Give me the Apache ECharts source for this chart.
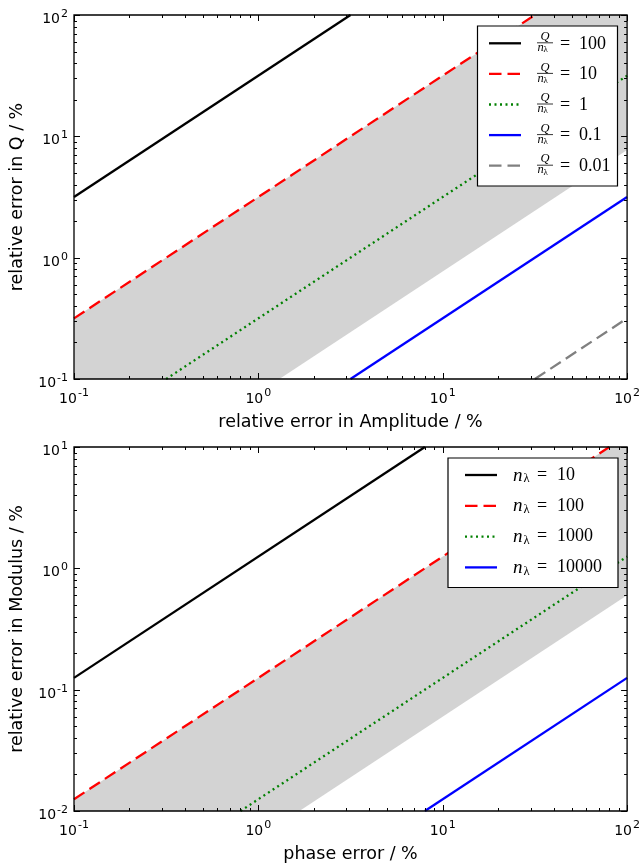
<!DOCTYPE html>
<html>
<head>
<meta charset="utf-8">
<script src="https://cdn.jsdelivr.net/npm/echarts@6/dist/echarts.min.js"></script>
<style>
html, body { margin: 0; padding: 0; background: #fff; }
#chart { width: 643px; height: 868px; }
</style>
</head>
<body>
<div id="chart"></div>
<script>
// ---- axis ranges ----
const xExtent = [0.1, 100];     // relative error in amplitude / phase error, %
const qExtent = [0.1, 100];     // relative error in Q, %
const modExtent = [0.01, 10];   // relative error in modulus, %

// ---- upper panel: error in Q for several Q/n_lambda ratios ----
const qRatioLabels = ['100', '10', '1', '0.1', '0.01'];
const qLine100 = [[0.1, 3.16], [3.16, 100]];
const qLine10 = [[0.1, 0.316], [31.6, 100]];
const qLine1 = [[0.316, 0.1], [100, 31.6]];
const qLine01 = [[3.16, 0.1], [100, 3.16]];
const qLine001 = [[31.6, 0.1], [100, 0.316]];
const qBandUpper = [[0.1, 0.316], [31.6, 100], [100, 100]];
const qBandLower = [[0.1, 0.1], [1.3, 0.1], [100, 7.7]];

// ---- lower panel: error in modulus for several n_lambda ----
const nLambdaLabels = ['10', '100', '1000', '10000'];
const modLine10 = [[0.1, 0.125], [8, 10]];
const modLine100 = [[0.1, 0.0125], [80, 10]];
const modLine1000 = [[0.8, 0.01], [100, 1.25]];
const modLine10000 = [[8, 0.01], [100, 0.125]];
const modBandUpper = [[0.1, 0.0125], [80, 10], [100, 10]];
const modBandLower = [[0.1, 0.01], [1.67, 0.01], [100, 0.6]];

// ---- line styles ----
const styles = {
  black: { color: '#000000', width: 2.3, type: 'solid' },
  red: { color: '#ff0000', width: 2.3, type: [12.5, 6] },
  green: { color: '#008000', width: 2.3, type: [2, 3.5] },
  blue: { color: '#0000ff', width: 2.3, type: 'solid' },
  gray: { color: '#808080', width: 2.3, type: [12.5, 6] }
};
const qStyles = [styles.black, styles.red, styles.green, styles.blue, styles.gray];
const nStyles = [styles.black, styles.red, styles.green, styles.blue];

const sansFont = 'DejaVu Sans';
const mathFont = '"Liberation Serif"';

function decadeLabel(v) {
  const e = Math.round(Math.log10(v));
  return '{b|10}{s|' + (e < 0 ? '-' + (-e) : e) + '}';
}
const labelRich = {
  b: { fontSize: 14, fontFamily: sansFont, color: '#000', padding: [9, 0, 0, 0] },
  s: { fontSize: 11, fontFamily: sansFont, color: '#000', padding: [4, 0, 6, 1] }
};

function logAxis(gridIndex, extent, name, nameGap, isY) {
  return {
    type: 'log', logBase: 10, gridIndex, min: extent[0], max: extent[1],
    name, nameLocation: 'middle', nameGap,
    nameTextStyle: { fontSize: 17.5, fontFamily: sansFont, color: '#000' },
    axisLine: { show: false }, axisTick: { show: false }, splitLine: { show: false },
    axisLabel: {
      formatter: decadeLabel, rich: labelRich, margin: isY ? 6 : 4,
      showMinLabel: true, showMaxLabel: true
    }
  };
}

function lineSeries(data, style, gi) {
  return {
    type: 'line', xAxisIndex: gi, yAxisIndex: gi, data, showSymbol: false, symbol: 'none',
    lineStyle: { color: style.color, width: style.width, type: style.type, cap: 'butt' },
    z: 3, silent: true, clip: true
  };
}

function bandSeries(upper, lower, gi) {
  return {
    type: 'custom', xAxisIndex: gi, yAxisIndex: gi, data: [upper[0]], silent: true, z: 1,
    renderItem(params, api) {
      const pts = upper.concat(lower.slice().reverse()).map(p => api.coord(p));
      return { type: 'polygon', shape: { points: pts }, style: { fill: '#d3d3d3' } };
    }
  };
}

// Decade and in-between tick values for a log range
function majorTicks(ext) {
  const out = [];
  for (let e = Math.round(Math.log10(ext[0])); e <= Math.round(Math.log10(ext[1])); e++) out.push(Math.pow(10, e));
  return out;
}
function minorTicks(ext) {
  const out = [];
  for (let e = Math.round(Math.log10(ext[0])); e < Math.round(Math.log10(ext[1])); e++) {
    for (let m = 2; m <= 9; m++) out.push(m * Math.pow(10, e));
  }
  return out;
}

// Ticks on all four sides plus the frame, drawn inside the plot area
function frameSeries(xExt, yExt, gi) {
  const data = [];
  majorTicks(xExt).forEach(v => data.push([v, yExt[0], 0, 6]));
  minorTicks(xExt).forEach(v => data.push([v, yExt[0], 0, 3]));
  majorTicks(yExt).forEach(v => data.push([xExt[0], v, 1, 6]));
  minorTicks(yExt).forEach(v => data.push([xExt[0], v, 1, 3]));
  data.push([xExt[0], yExt[0], 2, 0]);
  return {
    type: 'custom', xAxisIndex: gi, yAxisIndex: gi, data, silent: true, z: 5,
    renderItem(params, api) {
      const cs = params.coordSys;
      const kind = api.value(2), len = api.value(3);
      const st = { stroke: '#000', lineWidth: 1, fill: null };
      if (kind === 2) {
        return { type: 'rect', shape: { x: cs.x, y: cs.y, width: cs.width, height: cs.height }, style: { stroke: '#000', lineWidth: 1.3, fill: null } };
      }
      if (kind === 0) {
        const px = Math.round(api.coord([api.value(0), yExt[0]])[0]) + 0.5;
        return { type: 'group', children: [
          { type: 'line', shape: { x1: px, y1: cs.y + cs.height, x2: px, y2: cs.y + cs.height - len }, style: st },
          { type: 'line', shape: { x1: px, y1: cs.y, x2: px, y2: cs.y + len }, style: st }
        ] };
      }
      const py = Math.round(api.coord([xExt[0], api.value(1)])[1]) + 0.5;
      return { type: 'group', children: [
        { type: 'line', shape: { x1: cs.x, y1: py, x2: cs.x + len, y2: py }, style: st },
        { type: 'line', shape: { x1: cs.x + cs.width, y1: py, x2: cs.x + cs.width - len, y2: py }, style: st }
      ] };
    }
  };
}

// ---- legends (math-style labels) ----
function txt(x, y, text, size, italic, align) {
  return {
    type: 'text', x, y, z: 20,
    style: { text, font: (italic ? 'italic ' : '') + size + 'px ' + mathFont,
      fill: '#000', align: align || 'left', verticalAlign: 'middle' }
  };
}
function sample(x1, x2, y, st) {
  return {
    type: 'line', z: 20, shape: { x1, y1: y, x2, y2: y },
    style: { stroke: st.color, lineWidth: st.width, lineDash: Array.isArray(st.type) ? st.type : null }
  };
}

const graphics = [];
// upper legend
graphics.push({ type: 'rect', z: 19, shape: { x: 477.5, y: 26, width: 140, height: 160 },
  style: { fill: '#fff', stroke: '#000', lineWidth: 1.2 } });
qRatioLabels.forEach((lab, i) => {
  const y = 43.3 + i * 30.6;
  graphics.push(sample(489, 521, y, qStyles[i]));
  graphics.push(txt(545, y - 6.5, 'Q', 12.5, true, 'center'));
  graphics.push({ type: 'line', z: 20, shape: { x1: 537, y1: y - 0.5, x2: 553, y2: y - 0.5 },
    style: { stroke: '#000', lineWidth: 0.8 } });
  graphics.push(txt(537.5, y + 4.5, 'n', 12.5, true));
  graphics.push(txt(543.5, y + 6.5, 'λ', 9, false));
  graphics.push(txt(560, y + 0.5, '=', 18, false));
  graphics.push(txt(579, y + 0.5, lab, 18, false));
});
// lower legend
graphics.push({ type: 'rect', z: 19, shape: { x: 448, y: 458, width: 170, height: 129.5 },
  style: { fill: '#fff', stroke: '#000', lineWidth: 1.2 } });
nLambdaLabels.forEach((lab, i) => {
  const y = 475 + i * 30.8;
  graphics.push(sample(465, 497, y, nStyles[i]));
  graphics.push(txt(513, y + 0.5, 'n', 19, true));
  graphics.push(txt(523.5, y + 4, 'λ', 12.5, false));
  graphics.push(txt(537, y, '=', 18, false));
  graphics.push(txt(557, y, lab, 18, false));
});

const chart = echarts.init(document.getElementById('chart'), null, { renderer: 'canvas' });
chart.setOption({
  animation: false,
  backgroundColor: '#fff',
  grid: [
    { left: 72, top: 15, width: 557, height: 364, show: false },
    { left: 72, top: 447, width: 557, height: 364, show: false }
  ],
  xAxis: [
    logAxis(0, xExtent, 'relative error in Amplitude / %', 34, false),
    logAxis(1, xExtent, 'phase error / %', 34, false)
  ],
  yAxis: [
    logAxis(0, qExtent, 'relative error in Q / %', 48, true),
    logAxis(1, modExtent, 'relative error in Modulus / %', 48, true)
  ],
  series: [
    bandSeries(qBandUpper, qBandLower, 0),
    lineSeries(qLine100, qStyles[0], 0),
    lineSeries(qLine10, qStyles[1], 0),
    lineSeries(qLine1, qStyles[2], 0),
    lineSeries(qLine01, qStyles[3], 0),
    lineSeries(qLine001, qStyles[4], 0),
    frameSeries(xExtent, qExtent, 0),
    bandSeries(modBandUpper, modBandLower, 1),
    lineSeries(modLine10, nStyles[0], 1),
    lineSeries(modLine100, nStyles[1], 1),
    lineSeries(modLine1000, nStyles[2], 1),
    lineSeries(modLine10000, nStyles[3], 1),
    frameSeries(xExtent, modExtent, 1)
  ],
  graphic: graphics
});
</script>
</body>
</html>
